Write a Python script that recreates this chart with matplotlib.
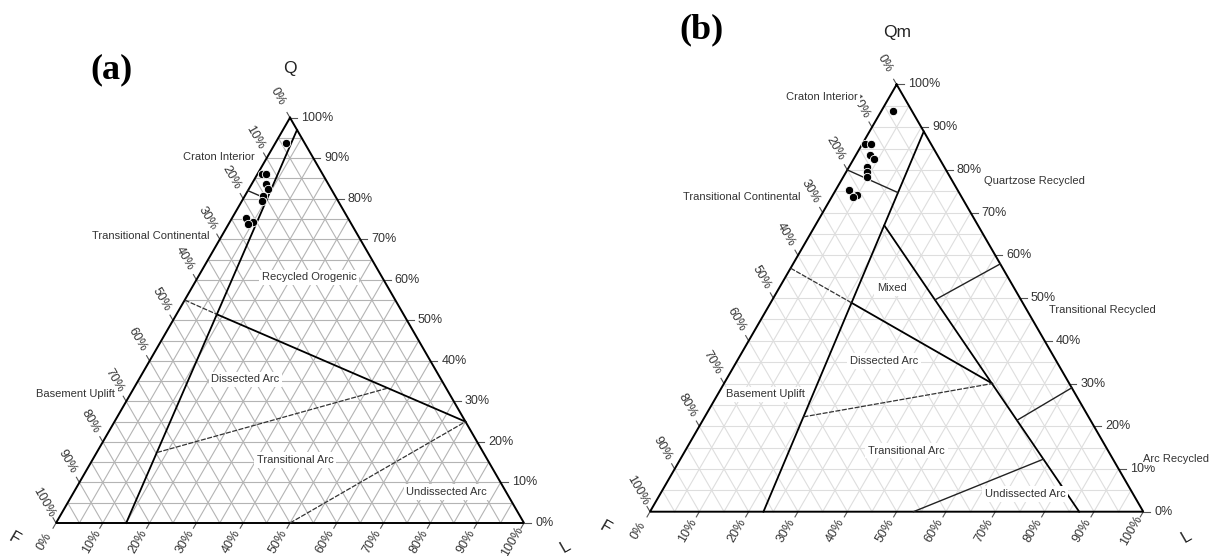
import numpy as np
import matplotlib.pyplot as plt

plt.rcParams['font.family'] = ['Liberation Sans', 'DejaVu Sans']

W, H = 1219, 556

# (a) Q-F-L sample compositions (%)
qfl_q = [93.7, 86.0, 86.0, 83.6, 82.3, 80.8, 79.5, 75.2, 74.2, 73.8]
qfl_f = [3.9, 13.0, 12.1, 13.4, 13.6, 15.3, 16.2, 21.9, 20.7, 22.0]
qfl_l = [2.4, 1.0, 1.9, 3.0, 4.1, 3.9, 4.3, 2.9, 5.1, 4.2]

# (b) Qm-F-Lt sample compositions (%)
qmf_qm = [93.8, 86.1, 86.1, 83.5, 82.5, 80.8, 79.6, 78.4, 75.3, 74.1, 73.7]
qmf_f = [3.8, 13.4, 12.2, 13.7, 13.4, 15.6, 16.3, 16.8, 22.0, 20.9, 21.9]
qmf_lt = [2.4, 0.5, 1.7, 2.8, 4.1, 3.6, 4.1, 4.8, 2.7, 5.0, 4.4]

# field boundaries (Q, F, L) end points and style
qfl_bounds = [
    [(97, 0, 3), (0, 85, 15), 'main'],
    [(51.5, 39.9, 8.6), (25, 0, 75), 'main'],
    [(55, 45, 0), (51.5, 39.9, 8.6), 'dash'],
    [(82, 18, 0), (80, 15, 5), 'thin'],
    [(17.4, 69.7, 12.9), (33.3, 12.4, 54.3), 'dash'],
    [(0, 50, 50), (25, 0, 75), 'dash'],
]
qmf_bounds = [
    [(89, 0, 11), (0, 77, 23), 'main'],
    [(67, 19, 14), (0, 13, 87), 'main'],
    [(48.9, 34.7, 16.4), (30, 15.6, 54.4), 'main'],
    [(57, 43, 0), (48.9, 34.7, 16.4), 'dash'],
    [(80, 20, 0), (74.7, 12.4, 12.9), 'thin'],
    [(22.2, 57.8, 20.0), (30, 15.6, 54.4), 'dash'],
    [(49.6, 17.4, 33.0), (58, 0, 42), 'thin'],
    [(21.4, 14.9, 63.7), (29, 0, 71), 'thin'],
    [(0, 46.6, 53.4), (12.3, 14.1, 73.6), 'thin'],
]

# field names and where they sit (x, y in triangle units, side = 1)
qfl_names = [
    ('Craton Interior', 0.347, 0.783),
    ('Transitional Continental', 0.202, 0.613),
    ('Recycled Orogenic', 0.541, 0.525),
    ('Dissected Arc', 0.405, 0.307),
    ('Basement Uplift', 0.042, 0.276),
    ('Transitional Arc', 0.511, 0.135),
    ('Undissected Arc', 0.835, 0.066),
]
qmf_names = [
    ('Craton Interior', 0.348, 0.840),
    ('Transitional Continental', 0.186, 0.637),
    ('Quartzose Recycled', 0.780, 0.670),
    ('Mixed', 0.490, 0.453),
    ('Transitional Recycled', 0.917, 0.409),
    ('Dissected Arc', 0.474, 0.305),
    ('Basement Uplift', 0.233, 0.238),
    ('Transitional Arc', 0.520, 0.124),
    ('Undissected Arc', 0.760, 0.036),
]

SQ = np.sqrt(3) / 2


def xy(q, f, l):
    q, f, l = np.asarray(q, float), np.asarray(f, float), np.asarray(l, float)
    s = q + f + l
    return (l + q / 2) / s, q * SQ / s


fig = plt.figure(figsize=(W / 100, H / 100), dpi=100)


def make_axes(x0, y0, side):
    # full-figure axes, one data unit = one triangle side
    ax = fig.add_axes([0, 0, 1, 1])
    ax.set_xlim(-x0 / side, (W - x0) / side)
    ax.set_ylim((y0 - H) / side, y0 / side)
    ax.axis('off')
    return ax


def draw_triangle(ax, side, grid_color, names, bounds, top, q, f, l):
    px = 1 / side
    # grid every 5 %
    for v in np.arange(5, 100, 5):
        for a, b in [((v, 100 - v, 0), (v, 0, 100 - v)),
                     ((100 - v, v, 0), (0, v, 100 - v)),
                     ((100 - v, 0, v), (0, 100 - v, v))]:
            x, y = xy(*zip(a, b))
            ax.plot(x, y, color=grid_color, lw=0.8, zorder=1)
    # frame
    x, y = xy([100, 0, 0, 100], [0, 100, 0, 0], [0, 0, 100, 0])
    ax.plot(x, y, color='black', lw=1.4, zorder=4, solid_joinstyle='miter')

    # ticks and tick labels
    tick_kw = dict(color='#555555', lw=0.8, zorder=3)
    lab_kw = dict(fontsize=9, color='#333333', zorder=3)
    for v in range(0, 101, 10):
        # right edge: top axis value
        x, y = xy(v, 0, 100 - v)
        ax.plot([x, x + 7 * px], [y, y], **tick_kw)
        ax.text(x + 11 * px, y, f'{v}%', ha='left', va='center', **lab_kw)
        # left edge: F
        x, y = xy(100 - v, v, 0)
        ax.plot([x, x - 3 * px], [y, y + 5.2 * px], **tick_kw)
        ax.text(x - 12 * px, y + 21 * px, f'{v}%', ha='center', va='center',
                rotation=-60, **lab_kw)
        # bottom edge: L
        x, y = xy(0, 100 - v, v)
        ax.plot([x, x - 3 * px], [y, y - 5.2 * px], **tick_kw)
        ax.text(x - 11.5 * px, y - 19 * px, f'{v}%', ha='center', va='center',
                rotation=60, **lab_kw)

    # field boundaries
    for a, b, kind in bounds:
        x, y = xy(*zip(a, b))
        if kind == 'main':
            ax.plot(x, y, color='black', lw=1.3, zorder=5)
        elif kind == 'thin':
            ax.plot(x, y, color='#222222', lw=1.0, zorder=5)
        else:
            ax.plot(x, y, color='#333333', lw=0.9, ls=(0, (4, 1.2)), zorder=5)

    # field names
    for name, x, y in names:
        ax.text(x, y, name, fontsize=8, color='#333333', ha='center', va='center',
                zorder=6, bbox=dict(facecolor='white', edgecolor='none', pad=2))

    # apex and corner names
    ax.text(0.5, 1.0 * SQ + 0.105, top, fontsize=12.5, color='#222222',
            ha='center', va='center')
    ax.text(-0.09, -0.033, 'F', fontsize=12, color='#222222', rotation=-30,
            ha='center', va='center')
    ax.text(1.088, -0.05, 'L', fontsize=12, color='#222222', rotation=30,
            ha='center', va='center')

    # samples
    x, y = xy(q, f, l)
    ax.plot(x, y, 'o', color='black', ms=6, mec='white', mew=0.6, zorder=7)


ax_a = make_axes(56, 523, 468)
draw_triangle(ax_a, 468, '#b4b4b4', qfl_names, qfl_bounds, 'Q',
              qfl_q, qfl_f, qfl_l)

ax_b = make_axes(650, 511.7, 493.3)
draw_triangle(ax_b, 493.3, '#dedede', qmf_names, qmf_bounds, 'Qm',
              qmf_qm, qmf_f, qmf_lt)
ax_b.text(1.0, 0.106, 'Arc Recycled', fontsize=8, color='#333333',
          ha='left', va='center', zorder=8,
          bbox=dict(facecolor='white', edgecolor='none', pad=0.5))

fig.text(111.7 / W, 1 - 70 / H, '(a)', fontsize=26, fontweight='bold',
         family='Liberation Serif', ha='center', va='center')
fig.text(701.7 / W, 1 - 30 / H, '(b)', fontsize=26, fontweight='bold',
         family='Liberation Serif', ha='center', va='center')

fig.savefig('out.png', dpi=100, facecolor='white')
